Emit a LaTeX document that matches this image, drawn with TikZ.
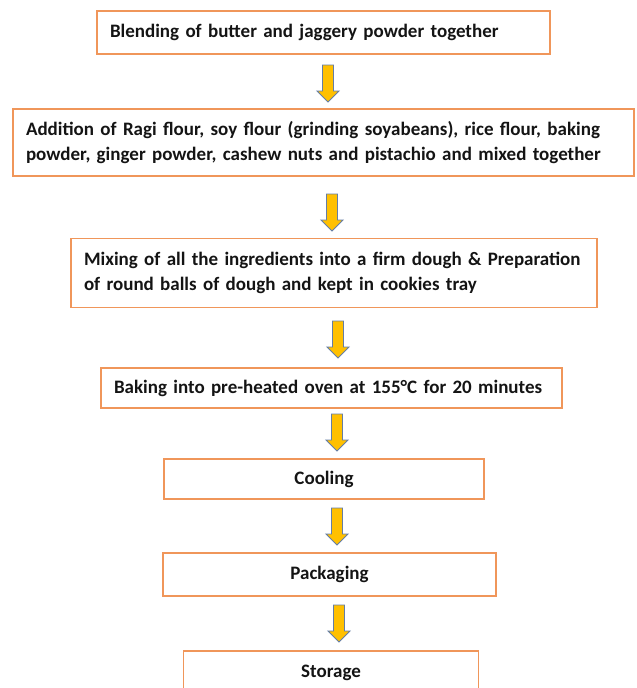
\documentclass[tikz,border=0pt]{standalone}
\usepackage{fontspec}
\setmainfont{Carlito}
\definecolor{boxorange}{RGB}{240,150,90}
\definecolor{arrowfill}{RGB}{255,192,0}
\definecolor{arrowedge}{RGB}{100,125,165}
\definecolor{txt}{RGB}{20,20,20}
\tikzset{
  stepbox/.style={draw=boxorange, line width=1.1pt, rectangle, inner xsep=13pt, inner ysep=0pt,
    font=\fontsize{19}{25}\selectfont\bfseries, text=txt, align=left},
  centerbox/.style={draw=boxorange, line width=1.1pt, rectangle, inner sep=0pt,
    font=\fontsize{19}{25}\selectfont\bfseries, text=txt, align=center},
  downarrow/.pic={
    \path[fill=arrowfill, draw=arrowedge, line width=0.9pt, line join=miter]
      (-5.5,0) -- (5.5,0) -- (5.5,26) -- (11,26) -- (0,37) -- (-11,26) -- (-5.5,26) -- cycle;
  }
}
\begin{document}
\begin{tikzpicture}[x=1pt,y=-1pt]
\useasboundingbox (0,0) rectangle (637,688);
\node[stepbox, minimum height=43pt, text width=427pt] (b1) at (323.5,32.5)
  {Blending of butter and jaggery powder together};
\node[stepbox, minimum height=67pt, text width=595pt] (b2) at (323.5,142.5)
  {Addition of Ragi flour, soy flour (grinding soyabeans), rice flour, baking\\powder, ginger powder, cashew nuts and pistachio and mixed together};
\node[stepbox, minimum height=69pt, text width=500pt] (b3) at (334,273)
  {Mixing of all the ingredients into a firm dough \& Preparation\\of round balls of dough and kept in cookies tray};
\node[stepbox, minimum height=40pt, text width=435pt] (b4) at (331.5,388)
  {Baking into pre-heated oven at 155°C for 20 minutes};
\node[centerbox, minimum height=40pt, minimum width=320pt] (b5) at (324,479) {Cooling};
\node[centerbox, minimum height=43pt, minimum width=333pt] (b6) at (329.5,574.5) {Packaging};
\node[centerbox, minimum height=44pt, minimum width=295pt] (b7) at (331,673) {Storage};
\pic at (328,65) {downarrow};
\pic at (332,194) {downarrow};
\pic at (338,321) {downarrow};
\pic at (337,414) {downarrow};
\pic at (337,508) {downarrow};
\pic at (339,605) {downarrow};
\end{tikzpicture}
\end{document}
